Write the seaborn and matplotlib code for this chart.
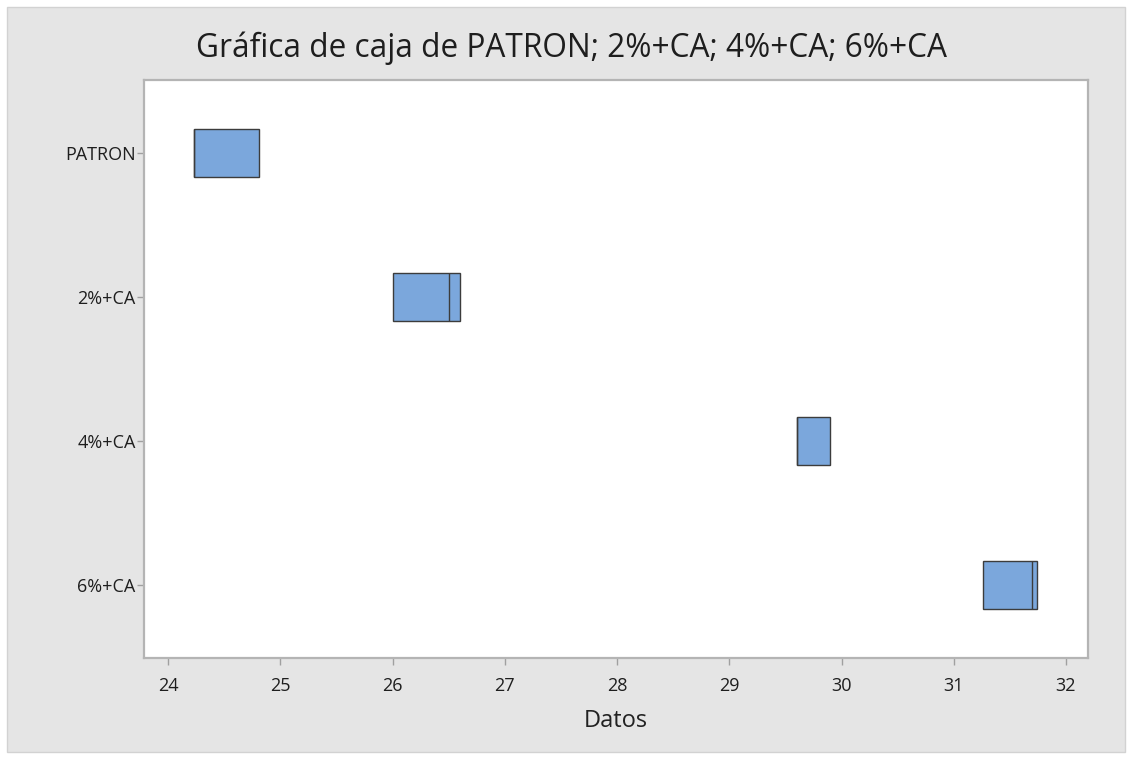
import matplotlib
matplotlib.use("Agg")
import matplotlib.pyplot as plt
import seaborn as sns
import pandas as pd
from matplotlib.patches import Rectangle

# Box statistics (Q1, median, Q3); whiskers have zero length
categories = ["PATRON", "2%+CA", "4%+CA", "6%+CA"]
q1 = [24.23, 26.00, 29.60, 31.26]
median = [24.23, 26.50, 29.60, 31.70]
q3 = [24.81, 26.60, 29.90, 31.74]
x_ticks = [24, 25, 26, 27, 28, 29, 30, 31, 32]

rows = []
for c, a, m, b in zip(categories, q1, median, q3):
    for v in (a, a, m, b, b):
        rows.append({"grupo": c, "Datos": v})
df = pd.DataFrame(rows)

sns.set_style("white")
plt.rcParams["font.family"] = ["Open Sans", "DejaVu Sans"]

fig = plt.figure(figsize=(11.32, 7.58), dpi=100, facecolor="white")
fig.patches.append(Rectangle((7 / 1132, 6 / 758), 1118 / 1132, 745 / 758,
                             transform=fig.transFigure, facecolor="#e5e5e5",
                             edgecolor="#d2d2d2", linewidth=1.0, zorder=-10))
ax = fig.add_axes([144 / 1132, 100 / 758, 944 / 1132, 578 / 758])
ax.set_facecolor("white")

sns.boxplot(data=df, x="Datos", y="grupo", order=categories, orient="h",
            width=0.33, color="#7ba7dc", saturation=1, linecolor="#3c3c3c",
            linewidth=1.0, showcaps=False, showfliers=False, ax=ax)

ax.set_xlim(23.786, 32.196)
ax.set_ylim(3.507, -0.507)
ax.set_xticks(x_ticks)
ax.set_xticklabels([str(t) for t in x_ticks])
ax.set_ylabel("")
ax.set_xlabel("Datos", fontsize=17, color="#222222", labelpad=10)
ax.tick_params(axis="both", which="both", bottom=True, left=True, length=5,
               width=1, color="#a0a0a0", labelsize=13, labelcolor="#1e1e1e",
               direction="out")
ax.tick_params(axis="x", pad=9)
ax.tick_params(axis="y", pad=1)
for s in ax.spines.values():
    s.set_color("#b4b4b4")
    s.set_linewidth(1.6)
    s.set_visible(True)

fig.text(572 / 1132, 1 - 48 / 758, "Gráfica de caja de PATRON; 2%+CA; 4%+CA; 6%+CA",
         ha="center", va="center", fontsize=22.8, color="#1e1e1e")

fig.savefig("out.png", dpi=100, facecolor=fig.get_facecolor())
